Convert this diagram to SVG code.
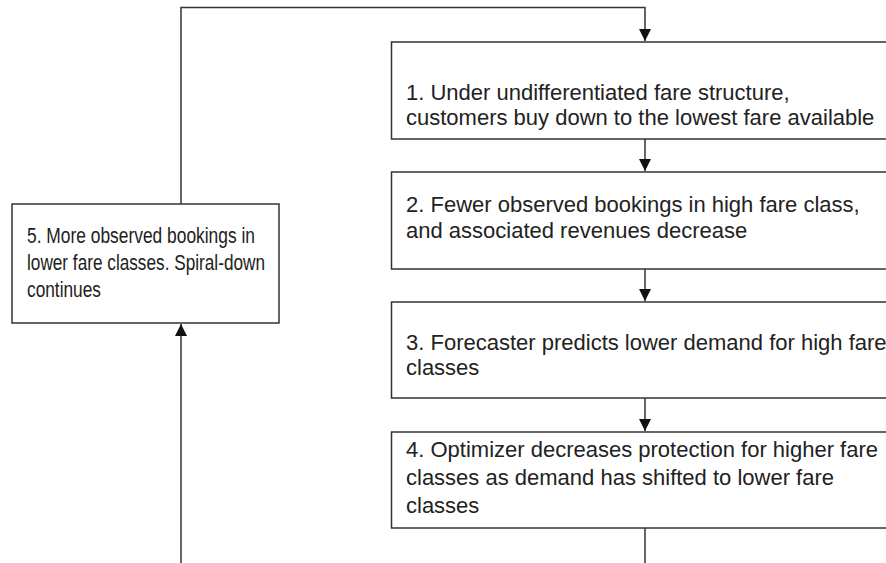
<svg xmlns="http://www.w3.org/2000/svg" width="886" height="563" viewBox="0 0 886 563">
<style>
.box{fill:#fff;stroke:#333;stroke-width:1.5}
.t{font-family:"Liberation Sans",Arial,sans-serif;font-size:22px;fill:#222}
.c{fill:none;stroke:#333;stroke-width:1.5}
</style>
<defs>
<marker id="ah" markerWidth="12" markerHeight="12" viewBox="0 0 12 12" refX="12" refY="6" orient="auto" markerUnits="userSpaceOnUse">
<path d="M0,0 L12,6 L0,12 Z" fill="#111"/>
</marker>
</defs>
<rect width="886" height="563" fill="#fff"/>
<g id="connectors">
<path class="c" d="M181,563 V324" marker-end="url(#ah)"/>
<path class="c" d="M181,204 V7.5 H645 V41" marker-end="url(#ah)"/>
<path class="c" d="M645,139 V171" marker-end="url(#ah)"/>
<path class="c" d="M645,269 V301" marker-end="url(#ah)"/>
<path class="c" d="M645,398 V431" marker-end="url(#ah)"/>
<path class="c" d="M645,528 V563"/>
</g>
<g id="n1">
<rect class="box" x="391.5" y="42" width="520" height="97"/>
<text class="t" x="406" y="100">1. Under undifferentiated fare structure,</text>
<text class="t" x="406" y="125">customers buy down to the lowest fare available</text>
</g>
<g id="n2">
<rect class="box" x="391.5" y="172" width="520" height="97"/>
<text class="t" x="406" y="212">2. Fewer observed bookings in high fare class,</text>
<text class="t" x="406" y="238">and associated revenues decrease</text>
</g>
<g id="n3">
<rect class="box" x="391.5" y="302" width="520" height="96"/>
<text class="t" x="406" y="350">3. Forecaster predicts lower demand for high fare</text>
<text class="t" x="406" y="375">classes</text>
</g>
<g id="n4">
<rect class="box" x="391.5" y="432" width="520" height="96"/>
<text class="t" x="406" y="457">4. Optimizer decreases protection for higher fare</text>
<text class="t" x="406" y="485">classes as demand has shifted to lower fare</text>
<text class="t" x="406" y="513">classes</text>
</g>
<g id="n5">
<rect class="box" x="12" y="204" width="267" height="119"/>
<text class="t" x="27" y="243" textLength="228" lengthAdjust="spacingAndGlyphs">5. More observed bookings in</text>
<text class="t" x="27" y="270" textLength="238" lengthAdjust="spacingAndGlyphs">lower fare classes. Spiral-down</text>
<text class="t" x="27" y="297" textLength="74" lengthAdjust="spacingAndGlyphs">continues</text>
</g>
</svg>
